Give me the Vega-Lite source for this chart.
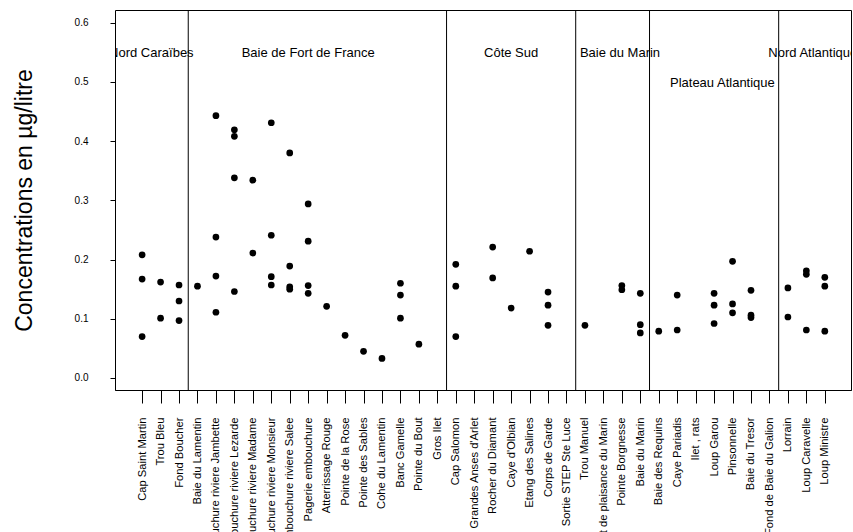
{
  "$schema": "https://vega.github.io/schema/vega-lite/v6.json",
  "width": 736,
  "height": 380,
  "autosize": {"type": "none"},
  "padding": {"left": 115, "top": 10, "right": 2, "bottom": 142},
  "background": "white",
  "config": {
    "view": {"stroke": "black", "strokeWidth": 1},
    "font": "Liberation Sans",
    "axis": {"grid": false, "labelColor": "black", "tickColor": "black", "domainColor": "black", "titleColor": "black", "labelFont": "Liberation Sans", "titleFont": "Liberation Sans"}
  },
  "datasets": {
    "points": [
      {"idx": 1, "site": "Cap Saint Martin", "value": 0.208},
      {"idx": 1, "site": "Cap Saint Martin", "value": 0.167},
      {"idx": 1, "site": "Cap Saint Martin", "value": 0.070},
      {"idx": 2, "site": "Trou Bleu", "value": 0.162},
      {"idx": 2, "site": "Trou Bleu", "value": 0.101},
      {"idx": 3, "site": "Fond Boucher", "value": 0.157},
      {"idx": 3, "site": "Fond Boucher", "value": 0.130},
      {"idx": 3, "site": "Fond Boucher", "value": 0.097},
      {"idx": 4, "site": "Baie du Lamentin", "value": 0.155},
      {"idx": 5, "site": "Embouchure riviere Jambette", "value": 0.443},
      {"idx": 5, "site": "Embouchure riviere Jambette", "value": 0.238},
      {"idx": 5, "site": "Embouchure riviere Jambette", "value": 0.172},
      {"idx": 5, "site": "Embouchure riviere Jambette", "value": 0.111},
      {"idx": 6, "site": "Embouchure riviere Lezarde", "value": 0.419},
      {"idx": 6, "site": "Embouchure riviere Lezarde", "value": 0.408},
      {"idx": 6, "site": "Embouchure riviere Lezarde", "value": 0.338},
      {"idx": 6, "site": "Embouchure riviere Lezarde", "value": 0.146},
      {"idx": 7, "site": "Embouchure riviere Madame", "value": 0.334},
      {"idx": 7, "site": "Embouchure riviere Madame", "value": 0.211},
      {"idx": 8, "site": "Embouchure riviere Monsieur", "value": 0.431},
      {"idx": 8, "site": "Embouchure riviere Monsieur", "value": 0.241},
      {"idx": 8, "site": "Embouchure riviere Monsieur", "value": 0.171},
      {"idx": 8, "site": "Embouchure riviere Monsieur", "value": 0.157},
      {"idx": 9, "site": "Embouchure riviere Salee", "value": 0.380},
      {"idx": 9, "site": "Embouchure riviere Salee", "value": 0.189},
      {"idx": 9, "site": "Embouchure riviere Salee", "value": 0.154},
      {"idx": 9, "site": "Embouchure riviere Salee", "value": 0.150},
      {"idx": 10, "site": "Pagerie embouchure", "value": 0.294},
      {"idx": 10, "site": "Pagerie embouchure", "value": 0.231},
      {"idx": 10, "site": "Pagerie embouchure", "value": 0.156},
      {"idx": 10, "site": "Pagerie embouchure", "value": 0.143},
      {"idx": 11, "site": "Atterrissage Rouge", "value": 0.121},
      {"idx": 12, "site": "Pointe de la Rose", "value": 0.072},
      {"idx": 13, "site": "Pointe des Sables", "value": 0.045},
      {"idx": 14, "site": "Cohe du Lamentin", "value": 0.033},
      {"idx": 15, "site": "Banc Gamelle", "value": 0.160},
      {"idx": 15, "site": "Banc Gamelle", "value": 0.140},
      {"idx": 15, "site": "Banc Gamelle", "value": 0.101},
      {"idx": 16, "site": "Pointe du Bout", "value": 0.057},
      {"idx": 18, "site": "Cap Salomon", "value": 0.192},
      {"idx": 18, "site": "Cap Salomon", "value": 0.155},
      {"idx": 18, "site": "Cap Salomon", "value": 0.070},
      {"idx": 20, "site": "Rocher du Diamant", "value": 0.221},
      {"idx": 20, "site": "Rocher du Diamant", "value": 0.169},
      {"idx": 21, "site": "Caye d'Olbian", "value": 0.118},
      {"idx": 22, "site": "Etang des Salines", "value": 0.214},
      {"idx": 23, "site": "Corps de Garde", "value": 0.145},
      {"idx": 23, "site": "Corps de Garde", "value": 0.123},
      {"idx": 23, "site": "Corps de Garde", "value": 0.089},
      {"idx": 25, "site": "Trou Manuel", "value": 0.089},
      {"idx": 27, "site": "Pointe Borgnesse", "value": 0.156},
      {"idx": 27, "site": "Pointe Borgnesse", "value": 0.149},
      {"idx": 28, "site": "Baie du Marin", "value": 0.143},
      {"idx": 28, "site": "Baie du Marin", "value": 0.090},
      {"idx": 28, "site": "Baie du Marin", "value": 0.076},
      {"idx": 29, "site": "Baie des Requins", "value": 0.079},
      {"idx": 30, "site": "Caye Pariadis", "value": 0.140},
      {"idx": 30, "site": "Caye Pariadis", "value": 0.081},
      {"idx": 32, "site": "Loup Garou", "value": 0.143},
      {"idx": 32, "site": "Loup Garou", "value": 0.123},
      {"idx": 32, "site": "Loup Garou", "value": 0.092},
      {"idx": 33, "site": "Pinsonnelle", "value": 0.197},
      {"idx": 33, "site": "Pinsonnelle", "value": 0.125},
      {"idx": 33, "site": "Pinsonnelle", "value": 0.110},
      {"idx": 34, "site": "Baie du Tresor", "value": 0.148},
      {"idx": 34, "site": "Baie du Tresor", "value": 0.106},
      {"idx": 34, "site": "Baie du Tresor", "value": 0.102},
      {"idx": 36, "site": "Lorrain", "value": 0.152},
      {"idx": 36, "site": "Lorrain", "value": 0.103},
      {"idx": 37, "site": "Loup Caravelle", "value": 0.181},
      {"idx": 37, "site": "Loup Caravelle", "value": 0.175},
      {"idx": 37, "site": "Loup Caravelle", "value": 0.081},
      {"idx": 38, "site": "Loup Ministre", "value": 0.170},
      {"idx": 38, "site": "Loup Ministre", "value": 0.155},
      {"idx": 38, "site": "Loup Ministre", "value": 0.079}
    ],
    "bounds": [
      {"idx": 3.5}, {"idx": 17.5}, {"idx": 24.5}, {"idx": 28.5}, {"idx": 35.5}
    ],
    "regions": [
      {"idx": 1.5, "value": 0.548, "label": "Nord Caraïbes"},
      {"idx": 10, "value": 0.548, "label": "Baie de Fort de France"},
      {"idx": 21, "value": 0.548, "label": "Côte Sud"},
      {"idx": 26.9, "value": 0.548, "label": "Baie du Marin"},
      {"idx": 32.45, "value": 0.498, "label": "Plateau Atlantique"},
      {"idx": 37.35, "value": 0.548, "label": "Nord Atlantique"}
    ]
  },
  "encoding": {
    "x": {
      "field": "idx",
      "type": "quantitative",
      "scale": {"domain": [-0.47, 39.42], "nice": false, "zero": false},
      "axis": {
        "title": null,
        "values": [1,2,3,4,5,6,7,8,9,10,11,12,13,14,15,16,17,18,19,20,21,22,23,24,25,26,27,28,29,30,31,32,33,34,35,36,37,38],
        "labelExpr": "[\"Cap Saint Martin\",\"Trou Bleu\",\"Fond Boucher\",\"Baie du Lamentin\",\"Embouchure riviere Jambette\",\"Embouchure riviere Lezarde\",\"Embouchure riviere Madame\",\"Embouchure riviere Monsieur\",\"Embouchure riviere Salee\",\"Pagerie embouchure\",\"Atterrissage Rouge\",\"Pointe de la Rose\",\"Pointe des Sables\",\"Cohe du Lamentin\",\"Banc Gamelle\",\"Pointe du Bout\",\"Gros Ilet\",\"Cap Salomon\",\"Grandes Anses d'Arlet\",\"Rocher du Diamant\",\"Caye d'Olbian\",\"Etang des Salines\",\"Corps de Garde\",\"Sortie STEP Ste Luce\",\"Trou Manuel\",\"Port de plaisance du Marin\",\"Pointe Borgnesse\",\"Baie du Marin\",\"Baie des Requins\",\"Caye Pariadis\",\"Ilet , rats\",\"Loup Garou\",\"Pinsonnelle\",\"Baie du Tresor\",\"Fond de Baie du Galion\",\"Lorrain\",\"Loup Caravelle\",\"Loup Ministre\"][datum.value - 1]",
        "labelAngle": -90,
        "labelAlign": "right",
        "labelBaseline": "middle",
        "labelFontSize": 11.2,
        "labelPadding": 14,
        "tickSize": 13,
        "domain": true,
        "labelOverlap": false,
        "labelBound": false,
        "labelFlush": false
      }
    },
    "y": {
      "field": "value",
      "type": "quantitative",
      "scale": {"domain": [-0.0203, 0.6214], "nice": false, "zero": false},
      "axis": {
        "title": "Concentrations en µg/litre",
        "titleFontSize": 23,
        "titleFontWeight": "normal",
        "titlePadding": 38,
        "values": [0, 0.1, 0.2, 0.3, 0.4, 0.5, 0.6],
        "format": ".1f",
        "labelFontSize": 10,
        "labelPadding": 22,
        "tickSize": 5,
        "domain": false,
        "labelOverlap": false
      }
    }
  },
  "layer": [
    {
      "data": {"name": "bounds"},
      "mark": {"type": "rule", "color": "black", "strokeWidth": 1},
      "encoding": {"y": null}
    },
    {
      "data": {"name": "points"},
      "mark": {"type": "circle", "color": "black", "opacity": 1, "size": 45}
    },
    {
      "data": {"name": "regions"},
      "mark": {"type": "text", "fontSize": 13, "color": "black", "align": "center", "baseline": "middle", "clip": true, "font": "Liberation Sans"},
      "encoding": {"text": {"field": "label"}}
    }
  ]
}
